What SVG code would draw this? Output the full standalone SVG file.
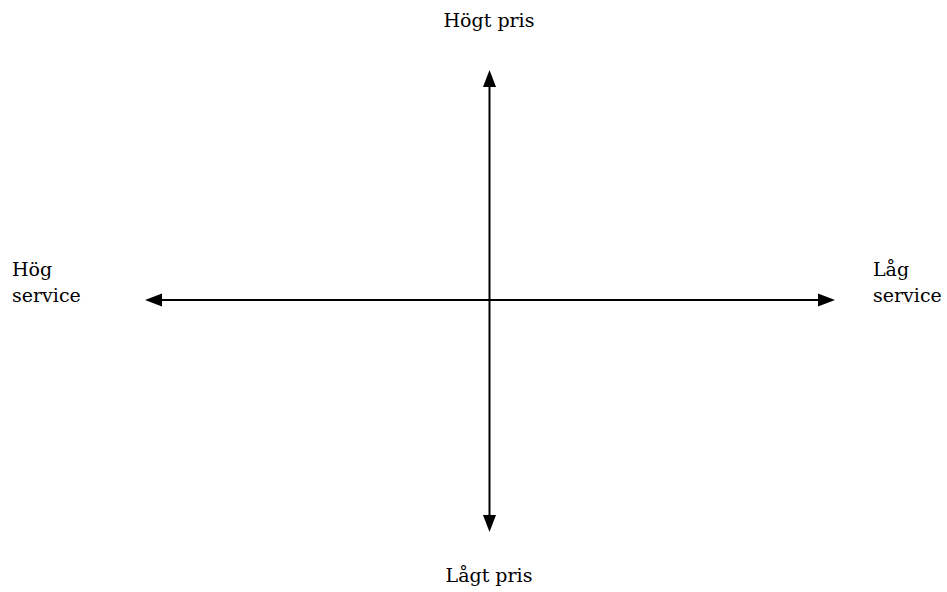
<svg xmlns="http://www.w3.org/2000/svg" width="947" height="592" viewBox="0 0 947 592">
<style>
.t{font-family:'DejaVu Serif','Liberation Serif',serif;font-size:19px;fill:#000}
.ax{stroke:#000;stroke-width:2;fill:none}
.ah{fill:#000}
</style>
<rect width="947" height="592" fill="#fff"/>
<g id="connectors">
<line class="ax" x1="489.5" y1="84" x2="489.5" y2="518"/>
<polygon class="ah" points="489.5,70 483,87 496,87"/>
<polygon class="ah" points="489.5,532 483,515 496,515"/>
<line class="ax" x1="159" y1="300" x2="821" y2="300"/>
<polygon class="ah" points="145,300 162,293.5 162,306.5"/>
<polygon class="ah" points="835,300 818,293.5 818,306.5"/>
</g>
<g id="top"><text class="t" x="489" y="27" text-anchor="middle">Högt pris</text></g>
<g id="bottom"><text class="t" x="489" y="582" text-anchor="middle">Lågt pris</text></g>
<g id="left"><text class="t" x="12" y="276">Hög</text><text class="t" x="12" y="302">service</text></g>
<g id="right"><text class="t" x="873" y="276">Låg</text><text class="t" x="873" y="302">service</text></g>
</svg>
